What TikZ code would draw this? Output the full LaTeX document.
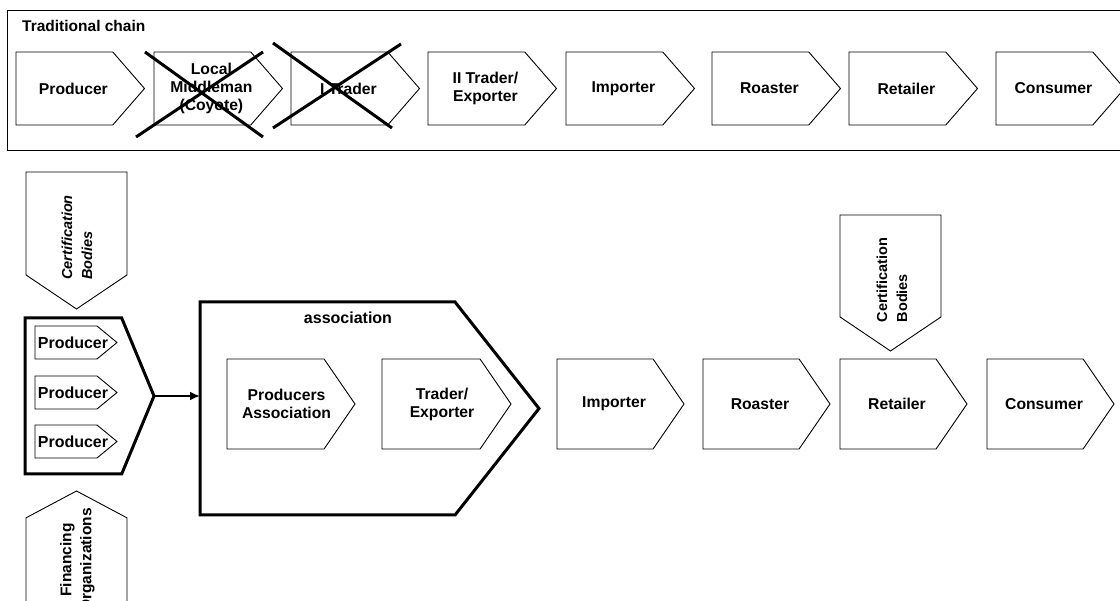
\documentclass[tikz,border=0pt]{standalone}
\usepackage{fontspec}
\setmainfont{Liberation Sans}
\usetikzlibrary{shapes.symbols,arrows.meta}

\tikzset{
  chev/.style={draw, signal, signal to=east, inner sep=0pt, outer sep=0pt,
    line width=0.9pt, anchor=west},
  toprow/.style={chev, minimum width=128.5, minimum height=73, signal pointer angle=98},
  botrow/.style={chev, minimum width=127, minimum height=90, signal pointer angle=111},
  bigbox/.style={chev, line width=3pt},
  lbl/.style={font=\bfseries\fontsize{15.7}{18}\selectfont, align=center, inner sep=0pt},
  sidebox/.style={draw, signal, rotate=90, inner sep=0pt, outer sep=0pt,
    line width=0.9pt, minimum height=101},
  sidelbl/.style={font=\bfseries\fontsize{14.5}{20}\selectfont, rotate=90, inner sep=0pt},
  cross/.style={line width=3pt},
}

\begin{document}
\begin{tikzpicture}[x=1pt,y=-1pt]
\clip (0,0) rectangle (1120,601);

% traditional chain
\draw[line width=1pt] (7,11) rectangle (1130,151);
\node (trad) [anchor=base west, inner sep=0pt, font=\bfseries\fontsize{15.5}{18}\selectfont] at (22,32) {Traditional chain};
\foreach \nm/\x/\txt in {tprod/16/Producer, tmid/154/{Local\\Middleman\\(Coyote)},
    ttra/291/I Trader, texp/428/{II Trader/\\Exporter}, timp/566/Importer,
    troa/712/Roaster, tret/849/Retailer, tcon/996/Consumer}{
  \node (\nm) [toprow] at (\x,88.5) {};
  \node (\nm-t) [lbl] at ([xshift=9]\nm.center) {\txt};
}
\draw[cross] (145,52) -- (263,137);
\draw[cross] (136,137) -- (263,52);
\draw[cross] (273,43) -- (392,128);
\draw[cross] (273,128) -- (401,44);

% producers
\node (grp) [bigbox, minimum width=129, minimum height=156, signal pointer angle=135] at (25,396) {};
\foreach \nm/\y in {gpa/342.5, gpb/392.5, gpc/441.5}{
  \node (\nm) [chev, minimum width=82, minimum height=33, signal pointer angle=79] at (35,\y) {};
  \node (\nm-t) [lbl, font=\bfseries\fontsize{16}{18}\selectfont] at ([xshift=7]\nm.center) {Producer};
}

% association
\node (assoc) [bigbox, minimum width=339, minimum height=213, signal pointer angle=103.5] at (200,408.5) {};
\node (assoc-t) [lbl, font=\bfseries\fontsize{16}{18}\selectfont] at (348,318) {association};
\node (bpa) [botrow, minimum width=128] at (227,404) {};
\node (bpa-t) [lbl] at ([xshift=11]bpa.center) {Producers\\Association};
\node (btr) [botrow, minimum width=129] at (382,404) {};
\node (btr-t) [lbl] at ([xshift=11]btr.center) {Trader/\\Exporter};
\draw[line width=2.4pt, -{Latex[length=10pt,width=9pt]}] (grp.east) -- (grp.east -| assoc.west);

% new chain
\foreach \nm/\x/\txt in {bimp/557/Importer, broa/703/Roaster, bret/840/Retailer, bcon/987/Consumer}{
  \node (\nm) [botrow] at (\x,404) {};
  \node (\nm-t) [lbl] at ([xshift=9]\nm.center) {\txt};
}

% side organisations
\node (certl) [sidebox, signal to=west, anchor=east, minimum width=137, signal pointer angle=112] at (76.5,172) {};
\node (certl-t) [sidelbl, align=left, font=\bfseries\itshape\fontsize{14.5}{20}\selectfont] at (77,237.5) {Certification\\Bodies};
\node (certr) [sidebox, signal to=west, anchor=east, minimum width=136, signal pointer angle=112] at (890.5,215) {};
\node (certr-t) [sidelbl, align=left] at (892,280) {Certification\\Bodies};
\node (fin) [sidebox, signal to=east, anchor=west, minimum width=150, signal pointer angle=124] at (76.5,641) {};
\node (fin-t) [sidelbl, align=center, font=\bfseries\fontsize{15.5}{20}\selectfont] at (77.5,560) {Financing\\Organizations};
\end{tikzpicture}
\end{document}
